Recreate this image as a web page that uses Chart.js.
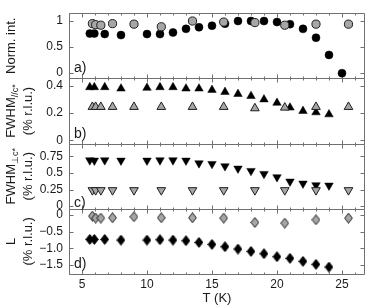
<!DOCTYPE html>
<html><head><meta charset="utf-8">
<script src="https://cdn.jsdelivr.net/npm/chart.js@4.4.1/dist/chart.umd.min.js"></script>
<style>html,body{margin:0;padding:0;background:#fff;overflow:hidden}canvas{display:block}</style>
</head><body>
<canvas id="c" width="374" height="306"></canvas>
<script>
// ---- data ----
const tBlack = [5.6, 5.95, 6.75, 8, 10, 11, 12, 13, 14, 15, 16, 17, 18, 19, 20, 21, 22, 23, 24, 25];
const tGray  = [5.8, 6.05, 6.45, 7.35, 9.0, 11.1, 13.5, 15.9, 18.3, 20.6, 23.0, 25.5];

const intBlack = [0.76,0.76,0.75,0.73,0.75,0.75,0.78,0.85,0.88,0.91,0.95,1.0,1.0,1.0,0.98,0.94,0.85,0.68,0.35,0.0];
const intGray  = [0.95,0.93,0.92,0.95,0.94,0.89,1.0,0.98,0.97,0.92,0.94,0.94];

const fwhmParBlack = [0.39,0.39,0.39,0.38,0.385,0.39,0.39,0.38,0.38,0.37,0.355,0.34,0.325,0.30,0.275,0.24,0.215,0.205,0.19];
const fwhmParGray  = [0.245,0.245,0.245,0.245,0.245,0.245,0.245,0.245,0.235,0.24,0.245,0.245];

const fwhmPerpBlack = [0.69,0.685,0.69,0.685,0.685,0.69,0.69,0.685,0.645,0.635,0.60,0.565,0.53,0.485,0.435,0.37,0.34,0.315,0.31];
const fwhmPerpGray  = [0.24,0.24,0.24,0.24,0.24,0.24,0.24,0.24,0.24,0.24,0.24,0.24];

const lBlack = [-0.73,-0.73,-0.73,-0.75,-0.75,-0.74,-0.75,-0.77,-0.82,-0.88,-0.95,-1.02,-1.09,-1.16,-1.25,-1.30,-1.39,-1.48,-1.56];
const lGray  = [-0.03,-0.09,-0.09,-0.08,-0.05,-0.08,-0.08,-0.09,-0.22,-0.24,-0.14,-0.09];

const xTicks = [5, 10, 15, 20, 25];
const ticksA = [0, 0.5, 1];          const labelsA = ['0', '0.5', '1'];
const ticksB = [0, 0.2, 0.4];        const labelsB = ['0', '0.2', '0.4'];
const ticksC = [0, 0.25, 0.5, 0.75]; const labelsC = ['0', '0.25', '0.5', '0.75'];
const ticksD = [0, -0.5, -1.0, -1.5];const labelsD = ['0', '\u22120.5', '\u22121.0', '\u22121.5'];
const panelTags = ['a)', 'b)', 'c)', 'd)'];

// ---- styling ----
const FONT = '"Liberation Sans", Arial, Helvetica, sans-serif';
const GRAY = '#a6a6a6';
const EDGE = '#1e1e1e';
const AXIS = '#707070';
const TEXT = '#1a1a1a';

function pts(t, v) { return v.map((y, i) => ({ x: t[i], y: y })); }

function diamond(fill, stroke) {
  const c = document.createElement('canvas');
  c.width = 9; c.height = 11;
  const g = c.getContext('2d');
  g.beginPath();
  g.moveTo(4.5, 0.6); g.lineTo(8.4, 5.5); g.lineTo(4.5, 10.4); g.lineTo(0.6, 5.5); g.closePath();
  g.fillStyle = fill; g.fill();
  g.lineWidth = 1; g.strokeStyle = stroke; g.stroke();
  return c;
}

function yAxis(min, max, ticks, labels, weight) {
  return {
    type: 'linear', position: 'left', stack: 'panels', stackWeight: 1, weight: weight,
    min: min, max: max,
    grid: { display: false, drawTicks: false, tickLength: 0 }, border: { display: false },
    afterBuildTicks: s => { s.ticks = ticks.map(v => ({ value: v })); },
    afterFit: s => { s.width = 69; },
    ticks: { autoSkip: false, padding: 6, color: TEXT, font: { family: FONT, size: 12 },
             callback: (v, i) => labels[i] }
  };
}

const blackStyle = { backgroundColor: '#000', borderColor: '#000', borderWidth: 0.5 };
const grayStyle  = { backgroundColor: GRAY, borderColor: EDGE, borderWidth: 1 };

const datasets = [
  Object.assign({ data: pts(tGray, intGray), yAxisID: 'yA', pointStyle: 'circle', pointRadius: 4.1 }, grayStyle),
  Object.assign({ data: pts(tBlack, intBlack), yAxisID: 'yA', pointStyle: 'circle', pointRadius: 4.0 }, blackStyle),
  Object.assign({ data: pts(tGray, fwhmParGray), yAxisID: 'yB', pointStyle: 'triangle', pointRadius: 5 }, grayStyle),
  Object.assign({ data: pts(tBlack, fwhmParBlack), yAxisID: 'yB', pointStyle: 'triangle', pointRadius: 4.9 }, blackStyle),
  Object.assign({ data: pts(tGray, fwhmPerpGray), yAxisID: 'yC', pointStyle: 'triangle', pointRotation: 180, pointRadius: 5 }, grayStyle),
  Object.assign({ data: pts(tBlack, fwhmPerpBlack), yAxisID: 'yC', pointStyle: 'triangle', pointRotation: 180, pointRadius: 4.9 }, blackStyle),
  { data: pts(tGray, lGray), yAxisID: 'yD', pointStyle: diamond(GRAY, EDGE), pointRadius: 5 },
  { data: pts(tBlack, lBlack), yAxisID: 'yD', pointStyle: diamond('#000', '#000'), pointRadius: 5 }
].map(d => Object.assign({ showLine: false, clip: false, xAxisID: 'x' }, d));

const PANEL_IDS = ['yA', 'yB', 'yC', 'yD'];
const TAG_LIFT = [6, 6, 2, 6];

const framePlugin = {
  id: 'frame',
  beforeDatasetsDraw(chart) {
    const ctx = chart.ctx, xs = chart.scales.x;
    const L = Math.round(xs.left) + 0.5, R = Math.round(xs.right) - 0.5;
    ctx.save();
    ctx.strokeStyle = AXIS; ctx.lineWidth = 1;
    PANEL_IDS.forEach(id => {
      const ys = chart.scales[id];
      const T = Math.round(ys.top) + 0.5, B = Math.round(ys.bottom) + 0.5;
      ctx.beginPath();
      ctx.moveTo(L, T); ctx.lineTo(R, T); ctx.lineTo(R, B); ctx.lineTo(L, B); ctx.closePath();
      for (let t = Math.ceil(xs.min); t <= xs.max; t++) {
        const px = Math.round(xs.getPixelForValue(t)) + 0.5;
        const len = (t % 5 === 0) ? 4 : 2;
        ctx.moveTo(px, B); ctx.lineTo(px, B - len);
        ctx.moveTo(px, T); ctx.lineTo(px, T + len);
      }
      ys.ticks.forEach(tk => {
        const py = Math.round(ys.getPixelForValue(tk.value)) + 0.5;
        ctx.moveTo(L, py); ctx.lineTo(L + 4, py);
        ctx.moveTo(R, py); ctx.lineTo(R - 4, py);
      });
      ctx.stroke();
    });
    ctx.restore();
  },
  afterDraw(chart) {
    const ctx = chart.ctx, xs = chart.scales.x;
    ctx.save();
    ctx.fillStyle = TEXT;
    ctx.font = '14px ' + FONT; ctx.textAlign = 'left'; ctx.textBaseline = 'alphabetic';
    PANEL_IDS.forEach((id, i) => {
      const ys = chart.scales[id];
      ctx.fillText(panelTags[i], xs.left + 5, ys.bottom - TAG_LIFT[i]);
    });
    const mid = id => (chart.scales[id].top + chart.scales[id].bottom) / 2;
    vText(ctx, 11, mid('yA'), [{ t: 'Norm. int.', s: 13 }]);
    vText(ctx, 11, mid('yB'), [{ t: 'FWHM', s: 13 }, { t: '//c*', s: 9, d: 5 }]);
    vText(ctx, 28, mid('yB'), [{ t: '(% r.l.u.)', s: 13 }]);
    vText(ctx, 11, mid('yC'), [{ t: 'FWHM', s: 13 }, { t: '\u22a5c*', s: 9, d: 5 }]);
    vText(ctx, 28, mid('yC'), [{ t: '(% r.l.u.)', s: 13 }]);
    vText(ctx, 11, mid('yD'), [{ t: 'L', s: 13 }]);
    vText(ctx, 28, mid('yD'), [{ t: '(% r.l.u.)', s: 13 }]);
    ctx.restore();
  }
};

function vText(ctx, cx, cy, runs) {
  ctx.save();
  ctx.translate(cx, cy);
  ctx.rotate(-Math.PI / 2);
  ctx.textAlign = 'left'; ctx.textBaseline = 'middle';
  let total = 0;
  runs.forEach(r => { ctx.font = r.s + 'px ' + FONT; r.w = ctx.measureText(r.t).width; total += r.w; });
  let x = -total / 2;
  runs.forEach(r => { ctx.font = r.s + 'px ' + FONT; ctx.fillText(r.t, x, r.d || 0); x += r.w; });
  ctx.restore();
}

new Chart(document.getElementById('c'), {
  type: 'scatter',
  data: { datasets: datasets },
  options: {
    responsive: false, animation: false, devicePixelRatio: 1, events: [],
    layout: { padding: { left: 0, top: 4, right: 9, bottom: 0 } },
    plugins: { legend: { display: false }, tooltip: { enabled: false } },
    scales: {
      x: {
        type: 'linear', position: 'bottom', min: 4, max: 26.77,
        grid: { display: false, drawTicks: false, tickLength: 0 }, border: { display: false },
        afterBuildTicks: s => { s.ticks = xTicks.map(v => ({ value: v })); },
        afterFit: s => { s.height = 32; },
        ticks: { autoSkip: false, padding: 3, maxRotation: 0, color: TEXT, font: { family: FONT, size: 12 } },
        title: { display: true, text: 'T (K)', color: TEXT, padding: 0, font: { family: FONT, size: 13 } }
      },
      yA: yAxis(-0.1, 1.15, ticksA, labelsA, 4),
      yB: yAxis(-0.025, 0.455, ticksB, labelsB, 3),
      yC: yAxis(-0.04, 0.94, ticksC, labelsC, 2),
      yD: yAxis(-1.77, 0.19, ticksD, labelsD, 1)
    }
  },
  plugins: [framePlugin]
});
</script>
</body></html>
